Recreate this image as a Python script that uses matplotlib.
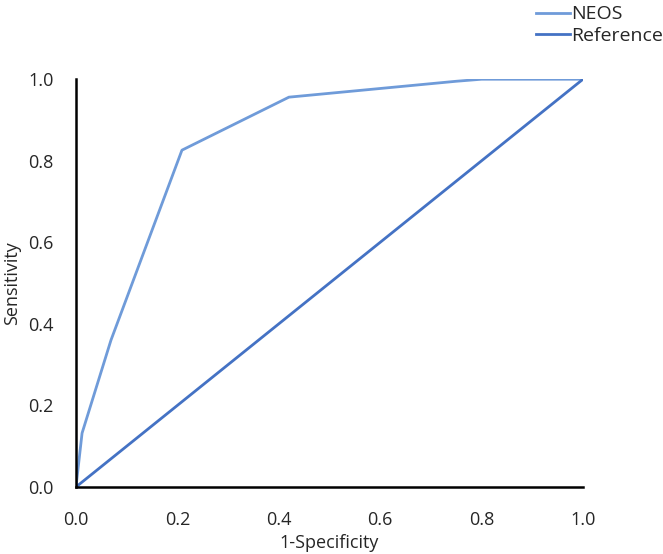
import matplotlib
matplotlib.use('Agg')
import matplotlib.pyplot as plt

# ROC curve points
neos_fpr = [0.0, 0.012, 0.069, 0.209, 0.42, 0.75, 0.80, 1.0]
neos_tpr = [0.0, 0.132, 0.36, 0.826, 0.956, 0.995, 1.0, 1.0]
ref_fpr = [0.0, 1.0]
ref_tpr = [0.0, 1.0]
ticks = [0.0, 0.2, 0.4, 0.6, 0.8, 1.0]

plt.rcParams['font.family'] = ['Open Sans', 'DejaVu Sans']
txt = '#262626'

fig = plt.figure(figsize=(6.63, 5.54), dpi=100)
ax = fig.add_axes([0.1146, 0.121, 0.7647, 0.736])

ax.plot(neos_fpr, neos_tpr, color='#6F9BD9', lw=2, label='NEOS')
ax.plot(ref_fpr, ref_tpr, color='#4472C4', lw=2, label='Reference')

ax.set_xlim(0, 1)
ax.set_ylim(0, 1)
ax.set_xticks(ticks)
ax.set_yticks(ticks)
ax.set_xticklabels(['%.1f' % t for t in ticks])
ax.set_yticklabels(['%.1f' % t for t in ticks])
ax.tick_params(length=0, labelsize=13, colors=txt)
ax.tick_params(axis='y', pad=16)
ax.tick_params(axis='x', pad=17)
for s in ['top', 'right']:
    ax.spines[s].set_visible(False)
for s in ['left', 'bottom']:
    ax.spines[s].set_color('black')
    ax.spines[s].set_linewidth(1.8)

ax.set_xlabel('1-Specificity', fontsize=13, color=txt, labelpad=4)
ax.set_ylabel('Sensitivity', fontsize=13, color=txt, labelpad=5)

fig.legend(loc='upper right', bbox_to_anchor=(1.026, 1.022), frameon=False,
           fontsize=14, handlelength=1.75, handletextpad=0.05, labelspacing=0.2,
           labelcolor=txt)

fig.savefig('out.png', dpi=100)
